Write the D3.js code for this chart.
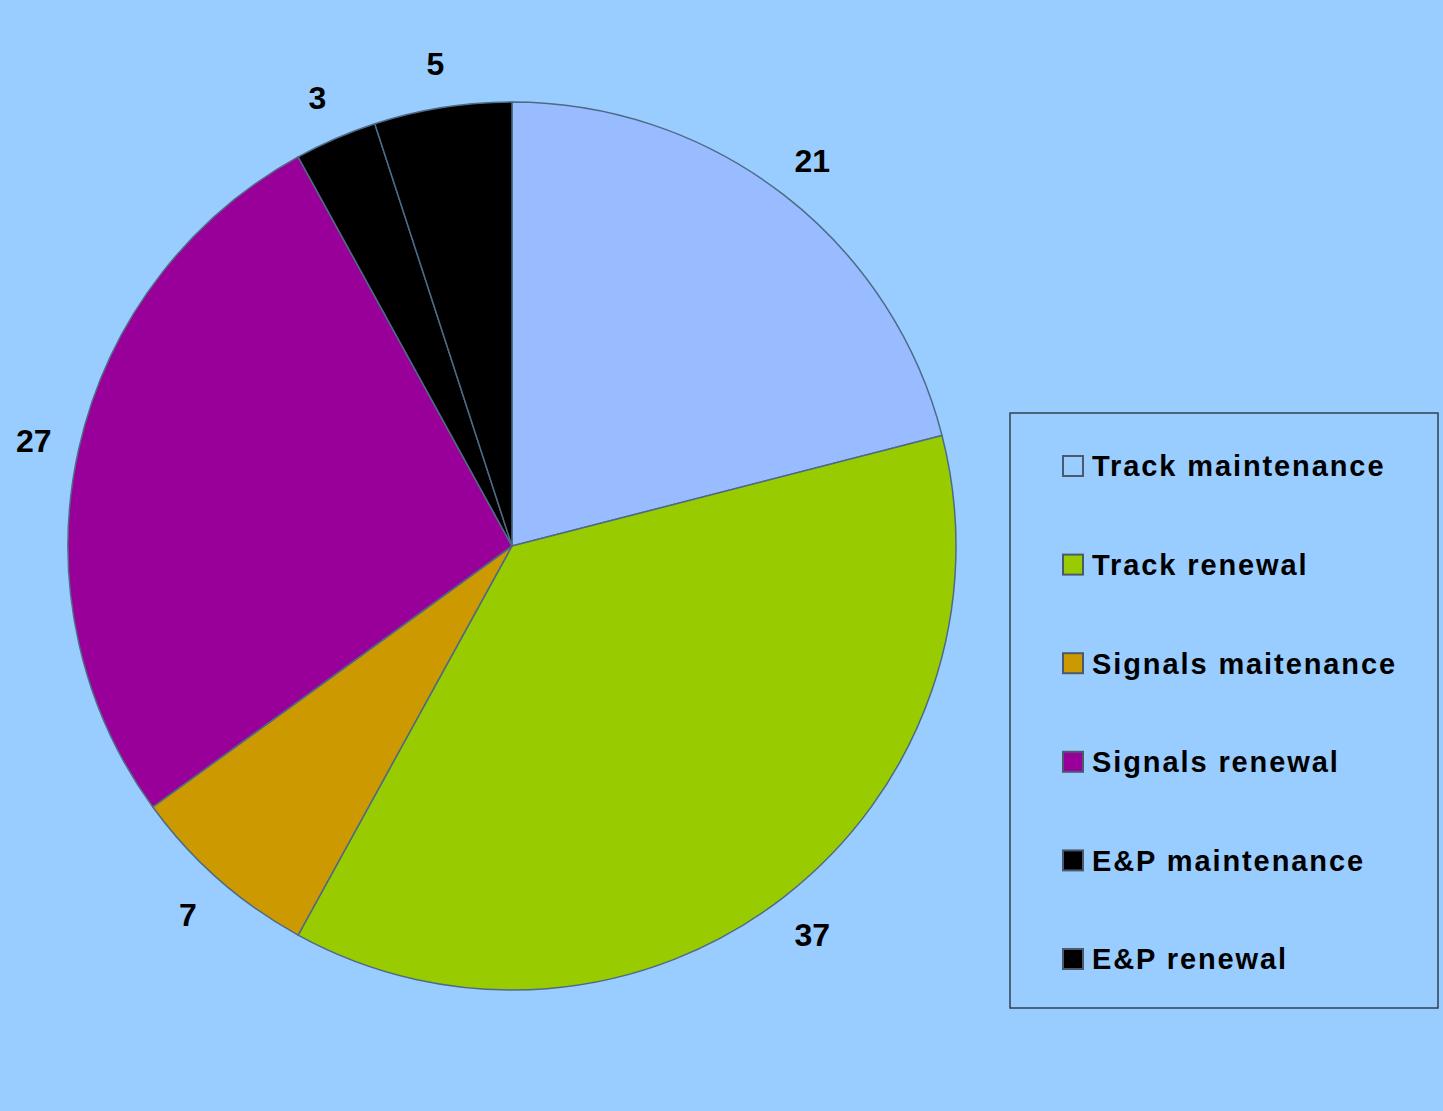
<!DOCTYPE html>
<html>
<head>
<meta charset="utf-8">
<script src="https://cdn.jsdelivr.net/npm/d3@7"></script>
<style>
  body { margin: 0; background: #99ccff; }
  text { font-family: "Liberation Sans", Arial, sans-serif; font-weight: bold; }
</style>
</head>
<body>
<div class="canvas"></div>
<script>
// data
const categories = ['Track maintenance', 'Track renewal', 'Signals maitenance', 'Signals renewal', 'E&P maintenance', 'E&P renewal'];
const values = [21, 37, 7, 27, 3, 5];
const colours = ['#99bbff', '#99cc00', '#cc9900', '#990099', '#000000', '#000000'];
const legendColours = ['#99ccff', '#99cc00', '#cc9900', '#990099', '#000000', '#000000'];

const dims = {width: 1443, height: 1111, radius: 444};
const cent = {x: 512, y: 546};

const svg = d3.select('.canvas')
    .append('svg')
    .attr('width', dims.width)
    .attr('height', dims.height);

svg.append('rect')
    .attr('width', dims.width)
    .attr('height', dims.height)
    .attr('fill', '#99ccff');

const graph = svg.append('g')
    .attr('transform', `translate(${cent.x}, ${cent.y})`);

const data = categories.map((c, i) => ({name: c, value: values[i]}));

//angles, clockwise from 12 o'clock
const pie = d3.pie()
    .sort(null)
    .value(d => d.value);

const arcPath = d3.arc()
    .outerRadius(dims.radius)
    .innerRadius(0);

const labelArc = d3.arc()
    .outerRadius(490)
    .innerRadius(490);

const colour = d3.scaleOrdinal()
    .domain(categories)
    .range(colours);

const arcs = pie(data);

graph.selectAll('path')
    .data(arcs)
    .enter()
    .append('path')
        .attr('d', arcPath)
        .attr('fill', d => colour(d.data.name))
        .attr('stroke', '#4d6b85')
        .attr('stroke-width', 1.5)
        .attr('stroke-linejoin', 'round');

//value labels outside the pie
graph.selectAll('text.val')
    .data(arcs)
    .enter()
    .append('text')
        .attr('class', 'val')
        .attr('transform', d => `translate(${labelArc.centroid(d)})`)
        .attr('text-anchor', 'middle')
        .attr('dy', '0.4em')
        .attr('font-size', 32)
        .attr('fill', '#000')
        .text(d => d.data.value);

//legend
const legendGroup = svg.append('g')
    .attr('transform', 'translate(1010, 413)');

legendGroup.append('rect')
    .attr('width', 428)
    .attr('height', 595)
    .attr('fill', 'none')
    .attr('stroke', '#333f4d')
    .attr('stroke-width', 1.5);

const rowY = d3.scalePoint()
    .domain(categories)
    .range([53, 546]);

const items = legendGroup.selectAll('g.item')
    .data(categories)
    .enter()
    .append('g')
        .attr('class', 'item')
        .attr('transform', d => `translate(0, ${rowY(d)})`);

items.append('rect')
    .attr('x', 53)
    .attr('y', -10)
    .attr('width', 20)
    .attr('height', 20)
    .attr('fill', (d, i) => legendColours[i])
    .attr('stroke', '#4a5a6c')
    .attr('stroke-width', 2);

items.append('text')
    .attr('x', 82)
    .attr('dy', '0.36em')
    .attr('font-size', 29)
    .attr('letter-spacing', 1.9)
    .attr('fill', '#000')
    .text(d => d);
</script>
</body>
</html>
